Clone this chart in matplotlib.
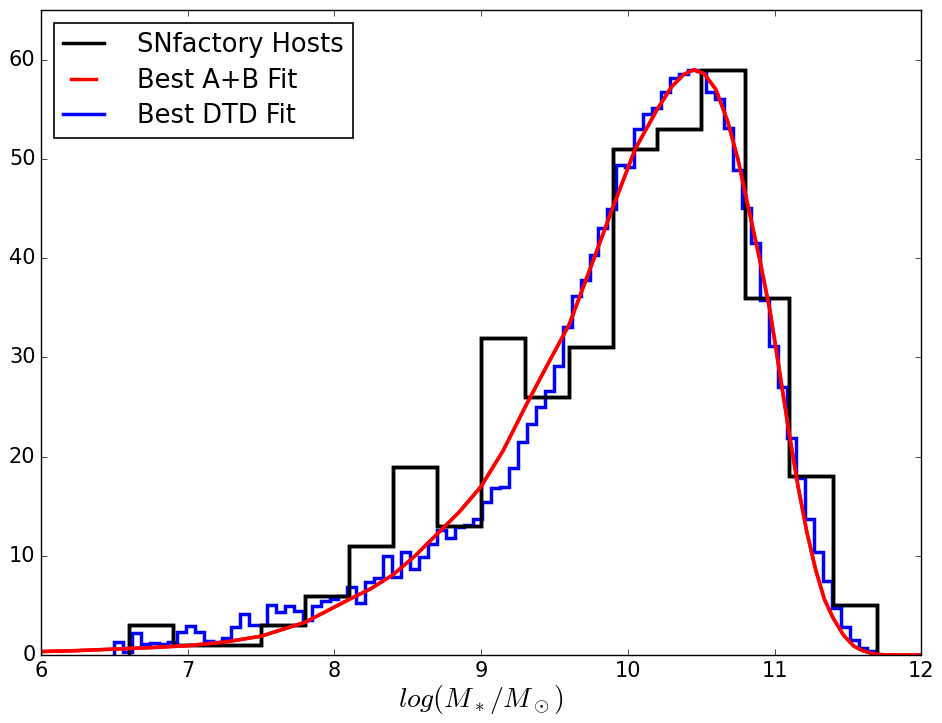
import numpy as np
import matplotlib
matplotlib.use('Agg')
import matplotlib.pyplot as plt

plt.style.use('classic')

# SNfactory host masses (bins 0.3 dex)
host_edges = np.arange(6.6, 11.71, 0.3)
host_counts = [3, 1, 1, 3, 6, 11, 19, 13, 32, 26, 31, 51, 53, 59, 36, 18, 5]

# Best DTD fit, finer bins
dtd_edges = np.linspace(6.5, 12.0, 91)
dtd_counts = [1.3, 0.3, 2.2, 1.1, 1.2, 1.1, 1.3, 2.3, 2.9, 2.3,
              1.4, 1.3, 1.7, 2.8, 4.1, 3.0, 3.0, 5.0, 4.3, 4.9,
              4.4, 3.5, 4.9, 5.4, 5.6, 5.9, 6.9, 5.2, 7.4, 7.8,
              10.0, 7.9, 10.4, 8.7, 9.9, 11.2, 12.6, 11.8, 12.9, 13.1,
              13.7, 15.4, 16.8, 16.9, 18.9, 21.5, 23.3, 25.0, 26.6, 29.1,
              33.1, 36.2, 37.8, 40.3, 43.0, 45.0, 49.4, 49.2, 53.0, 54.5,
              55.1, 56.7, 58.2, 58.6, 59.0, 58.9, 56.7, 56.0, 53.1, 48.9,
              45.1, 41.5, 35.8, 31.1, 27.0, 21.9, 17.8, 13.7, 10.4, 7.5,
              4.7, 2.8, 1.5, 0.75, 0.4, 0, 0, 0, 0, 0]

# Best A+B fit curve
ab_x = [6.0, 6.25, 6.5, 6.75, 7.0, 7.25, 7.5, 7.8, 8.1, 8.25, 8.4, 8.55, 8.7,
        8.85, 9.0, 9.15, 9.3, 9.45, 9.6, 9.75, 9.9, 10.05, 10.2, 10.3, 10.38,
        10.45, 10.52, 10.6, 10.68, 10.75, 10.82, 10.9, 10.97, 11.04, 11.1,
        11.16, 11.22, 11.28, 11.34, 11.4, 11.47, 11.54, 11.6, 11.67, 11.75,
        11.85, 12.0]
ab_y = [0.35, 0.45, 0.6, 0.75, 0.95, 1.3, 1.9, 3.3, 5.6, 6.7, 8.1, 10.0, 12.2,
        14.4, 17.0, 20.6, 25.0, 29.2, 33.3, 39.2, 45.2, 51.0, 55.0, 57.3, 58.5,
        59.0, 58.6, 57.0, 53.8, 50.0, 45.2, 39.8, 34.6, 28.0, 22.3,
        17.0, 12.4, 8.6, 5.6, 3.7, 2.0, 0.9, 0.45, 0.12, 0.02,
        0.0, 0.0]

fig = plt.figure(figsize=(9.42, 7.23), dpi=100, facecolor='white')
ax = fig.add_subplot(111)
fig.subplots_adjust(left=0.0435, right=0.978, top=0.986, bottom=0.094)

ax.stairs(host_counts, host_edges, color='black', linewidth=2.5, label='SNfactory Hosts')
ax.plot(ab_x, ab_y, color='red', linewidth=2.5, label='Best A+B Fit')
ax.stairs(dtd_counts, dtd_edges, color='blue', linewidth=2.5, label='Best DTD Fit')

# redraw black and red on top like the original
ax.stairs(host_counts, host_edges, color='black', linewidth=2.5)
ax.plot(ab_x, ab_y, color='red', linewidth=2.5)

ax.set_xlim(6, 12)
ax.set_ylim(0, 65)
ax.set_xticks([6, 7, 8, 9, 10, 11, 12])
ax.set_yticks([0, 10, 20, 30, 40, 50, 60])
ax.tick_params(labelsize=15)
ax.set_xlabel(r'$log(M_*/M_\odot)$', fontsize=20, labelpad=2)

handles, labels = ax.get_legend_handles_labels()
leg = ax.legend(handles[:3], labels[:3], loc='upper left', fontsize=18.5,
                handlelength=1.6, handletextpad=1.3, labelspacing=0.38,
                borderpad=0.35, borderaxespad=0.5)
leg.get_frame().set_linewidth(1.2)

fig.savefig('out.png', dpi=100, facecolor='white')
